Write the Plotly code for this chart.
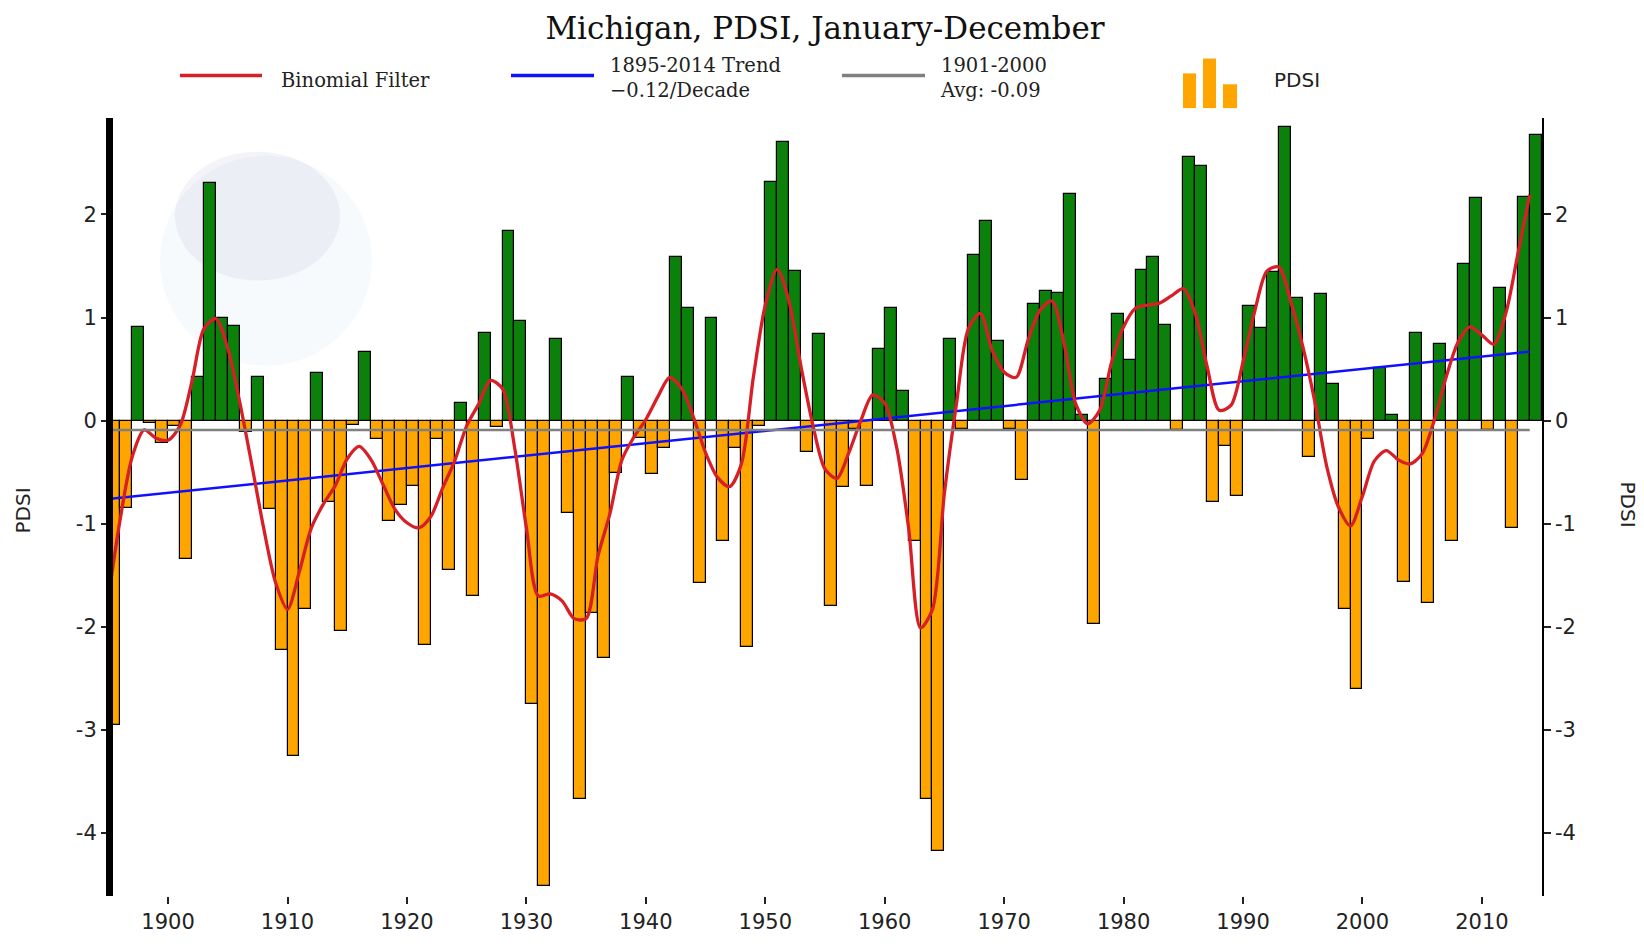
import plotly.graph_objects as go

# ---------------- data ----------------
YEARS = list(range(1895, 2015))

PDSI = [
    -2.95, -0.85, 0.91, -0.02, -0.22, -0.05, -1.34, 0.42, 2.30, 1.00,   # 1895-1904
    0.92, -0.11, 0.42, -0.86, -2.22, -3.25, -1.83, 0.46, -0.79, -2.04,  # 1905-1914
    -0.04, 0.67, -0.18, -0.97, -0.82, -0.63, -2.18, -0.18, -1.45, 0.17, # 1915-1924
    -1.70, 0.85, -0.06, 1.84, 0.97, -2.75, -4.51, 0.79, -0.90, -3.67,   # 1925-1934
    -1.87, -2.30, -0.51, 0.42, -0.17, -0.52, -0.27, 1.59, 1.09, -1.57,  # 1935-1944
    1.00, -1.17, -0.27, -2.20, -0.05, 2.31, 2.70, 1.45, -0.30, 0.84,    # 1945-1954
    -1.80, -0.64, -0.08, -0.63, 0.69, 1.09, 0.29, -1.17, -3.67, -4.17,  # 1955-1964
    0.79, -0.08, 1.61, 1.94, 0.77, -0.08, -0.58, 1.13, 1.26, 1.24,      # 1965-1974
    2.20, 0.05, -1.97, 0.40, 1.03, 0.59, 1.46, 1.59, 0.93, -0.09,       # 1975-1984
    2.56, 2.47, -0.79, -0.25, -0.73, 1.11, 0.90, 1.44, 2.85, 1.19,      # 1985-1994
    -0.35, 1.23, 0.36, -1.83, -2.60, -0.18, 0.51, 0.05, -1.56, 0.85,    # 1995-2004
    -1.77, 0.74, -1.17, 1.52, 2.16, -0.09, 1.29, -1.04, 2.17, 2.77,     # 2005-2014
]

BINOMIAL_FILTER = [
    -1.72, -0.95, -0.35, -0.09, -0.17, -0.19, -0.05, 0.38, 0.89, 0.99,  # 1895-1904
    0.70, 0.18, -0.42, -1.04, -1.57, -1.83, -1.46, -1.04, -0.81, -0.63, # 1905-1914
    -0.37, -0.25, -0.38, -0.62, -0.86, -0.99, -1.04, -0.93, -0.65, -0.39, # 1915-1924
    -0.05, 0.16, 0.39, 0.31, -0.25, -1.04, -1.70, -1.68, -1.75, -1.92,  # 1925-1934
    -1.92, -1.31, -0.90, -0.38, -0.16, 0.01, 0.23, 0.42, 0.31, 0.03,    # 1935-1944
    -0.31, -0.55, -0.64, -0.42, 0.42, 1.12, 1.47, 1.15, 0.52, -0.05,    # 1945-1954
    -0.47, -0.56, -0.31, 0.00, 0.25, 0.17, -0.26, -1.04, -2.01, -1.83,  # 1955-1964
    -0.70, 0.16, 0.89, 1.04, 0.68, 0.47, 0.42, 0.78, 1.07, 1.16,        # 1965-1974
    0.76, 0.16, -0.03, 0.10, 0.57, 0.91, 1.09, 1.12, 1.14, 1.21,        # 1975-1984
    1.28, 1.04, 0.52, 0.10, 0.15, 0.57, 1.07, 1.45, 1.49, 1.15,         # 1985-1994
    0.72, 0.19, -0.44, -0.84, -1.02, -0.73, -0.39, -0.29, -0.38, -0.42, # 1995-2004
    -0.32, 0.00, 0.42, 0.76, 0.91, 0.83, 0.74, 1.04, 1.61, 2.19,        # 2005-2014
]

TREND_YEARS = [1895, 2014]
TREND_VALUES = [-0.76, 0.67]
AVG_YEARS = [1895, 2014]
AVG_VALUE = -0.09

X_TICKS = [1900, 1910, 1920, 1930, 1940, 1950, 1960, 1970, 1980, 1990, 2000, 2010]
Y_TICKS = [-4, -3, -2, -1, 0, 1, 2]
Y_TICK_TEXT = ["-4", "-3", "-2", "-1", "0", "1", "2"]

TITLE = "Michigan, PDSI, January-December"
Y_TITLE = "PDSI"
LEGEND_FILTER = "Binomial Filter"
LEGEND_TREND = "1895-2014 Trend<br>\u22120.12/Decade"
LEGEND_AVG = "1901-2000<br>Avg: -0.09"
LEGEND_BARS = "PDSI"

# ---------------- styling ----------------
W, H = 1644, 946
ML, MR, MT, MB = 113, 102, 118, 43
PW = W - ML - MR
PH = H - MT - MB

GREEN = "#0B800B"
ORANGE = "#FFA500"
RED = "#D61F26"
BLUE = "#1010FF"
GRAY = "#808080"
SANS = "DejaVu Sans"
SERIF = "DejaVu Serif"


def pxx(x):
    return (x - ML) / PW


def pxy(y):
    return (H - MB - y) / PH


fig = go.Figure()

fig.add_trace(go.Bar(
    x=YEARS, y=PDSI, width=1, offset=0,
    marker=dict(color=[GREEN if v >= 0 else ORANGE for v in PDSI],
                line=dict(color="black", width=1.2)),
    showlegend=False, hoverinfo="x+y",
))
fig.add_trace(go.Scatter(
    x=AVG_YEARS, y=[AVG_VALUE] * len(AVG_YEARS), mode="lines",
    line=dict(color=GRAY, width=2.5), yaxis="y2", showlegend=False,
))
fig.add_trace(go.Scatter(
    x=TREND_YEARS, y=TREND_VALUES, mode="lines",
    line=dict(color=BLUE, width=2.5), showlegend=False,
))
fig.add_trace(go.Scatter(
    x=YEARS, y=BINOMIAL_FILTER, mode="lines",
    line=dict(color=RED, width=3.3, shape="spline", smoothing=0.8), showlegend=False,
))

YRANGE = [-4.61, 2.935]
tickfont = dict(family=SANS, size=21, color="#222")

shapes = []
# faint NOAA-like watermark
shapes.append(dict(type="circle", xref="paper", yref="paper", layer="below",
                   x0=pxx(160), x1=pxx(372), y0=pxy(368), y1=pxy(156),
                   fillcolor="rgba(185,215,240,0.13)", line=dict(width=0)))
shapes.append(dict(type="circle", xref="paper", yref="paper", layer="below",
                   x0=pxx(175), x1=pxx(340), y0=pxy(282), y1=pxy(152),
                   fillcolor="rgba(165,155,200,0.12)", line=dict(width=0)))

# legend glyphs
LEG_Y = 75
for x0, x1, col in [(180, 262, RED), (511, 594, BLUE), (842, 925, GRAY)]:
    shapes.append(dict(type="line", xref="paper", yref="paper",
                       x0=pxx(x0), x1=pxx(x1), y0=pxy(LEG_Y), y1=pxy(LEG_Y),
                       line=dict(color=col, width=3.5)))
for x0, x1, top in [(1183, 1196, 73), (1203, 1216, 58), (1223, 1237, 84)]:
    shapes.append(dict(type="rect", xref="paper", yref="paper",
                       x0=pxx(x0), x1=pxx(x1), y0=pxy(108), y1=pxy(top),
                       fillcolor=ORANGE, line=dict(width=0)))

annotations = [
    dict(text=LEGEND_FILTER, x=pxx(279), y=pxy(80), xanchor="left", yanchor="middle",
         font=dict(family=SERIF, size=19.5, color="#222")),
    dict(text=LEGEND_TREND, x=pxx(608), y=pxy(78), xanchor="left", yanchor="middle",
         align="left", font=dict(family=SERIF, size=19.5, color="#222")),
    dict(text=LEGEND_AVG, x=pxx(938), y=pxy(78), xanchor="left", yanchor="middle",
         align="left", font=dict(family=SERIF, size=19.5, color="#222")),
    dict(text=LEGEND_BARS, x=pxx(1272), y=pxy(80), xanchor="left", yanchor="middle",
         font=dict(family=SANS, size=20, color="#222")),
    dict(text=Y_TITLE, x=pxx(23), y=pxy(514), xanchor="center", yanchor="middle",
         textangle=-90, font=dict(family=SANS, size=20, color="#222")),
    dict(text=Y_TITLE, x=pxx(1628), y=pxy(508), xanchor="center", yanchor="middle",
         textangle=90, font=dict(family=SANS, size=20, color="#222")),
]
for a in annotations:
    a.update(xref="paper", yref="paper", showarrow=False)

fig.update_layout(
    width=W, height=H,
    margin=dict(l=ML, r=MR, t=MT, b=MB, pad=0),
    paper_bgcolor="white", plot_bgcolor="rgba(0,0,0,0)",
    title=dict(text=TITLE, x=825 / W, xanchor="center", y=1 - 28 / H, yanchor="middle",
               font=dict(family=SERIF, size=31, color="#111")),
    xaxis=dict(range=[1895.39, 2015.03], tickvals=X_TICKS, ticks="outside", ticklen=7,
               tickwidth=1.5, tickcolor="#222", showline=False, showgrid=False,
               zeroline=False, tickfont=tickfont),
    yaxis=dict(range=YRANGE, tickvals=Y_TICKS, ticktext=Y_TICK_TEXT, ticks="outside",
               ticklen=5, tickwidth=1.5, tickcolor="#222", showline=True, linewidth=7,
               linecolor="black", showgrid=False, zeroline=True, zerolinecolor="black",
               zerolinewidth=1.2, tickfont=tickfont),
    yaxis2=dict(range=YRANGE, overlaying="y", side="right", tickvals=Y_TICKS,
                ticktext=Y_TICK_TEXT, ticks="outside", ticklen=7, tickwidth=1.5,
                tickcolor="#222", showline=True, linewidth=1.5, linecolor="black",
                showgrid=False, zeroline=False, tickfont=tickfont),
    shapes=shapes,
    annotations=annotations,
    bargap=0,
    showlegend=False,
)

fig.write_html("out.html", config={"displayModeBar": False})
